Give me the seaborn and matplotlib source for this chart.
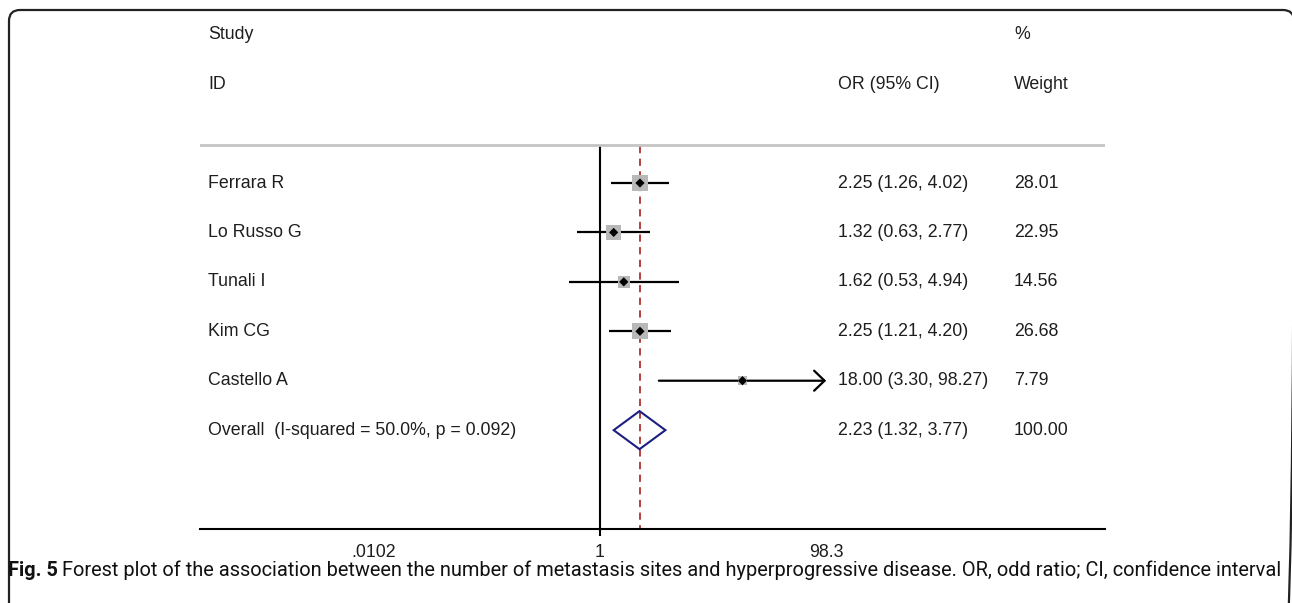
import numpy as np
import pandas as pd
import seaborn as sns
import matplotlib.pyplot as plt
from matplotlib.patches import Polygon, FancyBboxPatch, FancyArrowPatch

studies = ["Ferrara R", "Lo Russo G", "Tunali I", "Kim CG", "Castello A"]
odds = [2.25, 1.32, 1.62, 2.25, 18.00]
ci_low = [1.26, 0.63, 0.53, 1.21, 3.30]
ci_high = [4.02, 2.77, 4.94, 4.20, 98.27]
weights = [28.01, 22.95, 14.56, 26.68, 7.79]

overall_label = "Overall  (I-squared = 50.0%, p = 0.092)"
overall_or = 2.23
overall_low = 1.32
overall_high = 3.77
overall_weight = 100.00

tick_vals = [0.0102, 1, 98.3]
tick_labels = [".0102", "1", "98.3"]

caption_bold = "Fig. 5"
caption_rest = ("Forest plot of the association between the number of metastasis sites "
                "and hyperprogressive disease. OR, odd ratio; CI, confidence interval")

df = pd.DataFrame({"study": studies, "or": odds, "lo": ci_low, "hi": ci_high, "w": weights})
df["row"] = np.arange(1, len(df) + 1)
# CIs reaching the scale end get an arrow
df["arrow"] = df["hi"].round(1) >= tick_vals[-1]

sns.set_style("white")
plt.rcParams["font.family"] = ["Liberation Sans", "DejaVu Sans"]

W, H = 1292, 603
fig = plt.figure(figsize=(W / 100, H / 100), dpi=100)

# background frame (only left, top and top-right corner show)
bg = fig.add_axes([0, 0, 1, 1], zorder=0)
bg.set_xlim(0, W)
bg.set_ylim(H, 0)
bg.axis("off")
bg.add_patch(FancyBboxPatch((9, 10), 1285, 660, boxstyle="round,pad=0,rounding_size=11",
                            fill=False, ec="#222222", lw=1.6))

# main forest axes (pixel 200..1105 wide, 10..529 tall)
ax = fig.add_axes([200 / W, (H - 529) / H, 905 / W, 519 / H], zorder=1)
ax.patch.set_alpha(0)
ax.set_xscale("log")
px_per_dec = 113.5
ax.set_xlim(10 ** (-400 / px_per_dec), 10 ** (505 / px_per_dec))
ax.set_ylim(8, -2.5)

txt = "#1e1e1e"
fs = 12.8

# reference lines
ax.vlines(1, 0.25, 8.15, color="black", lw=1.5, clip_on=False, zorder=2)
ax.vlines(overall_or, 0.25, 8, color="#b03030", lw=1.3, linestyles=(0, (4, 3)), zorder=2)
ax.axhline(0.23, color="#c4c4c4", lw=2)

# CIs
normal = df[~df["arrow"]]
ax.hlines(normal["row"], normal["lo"], normal["hi"], color="black", lw=1.6, zorder=3)
for _, r in df[df["arrow"]].iterrows():
    ax.add_patch(FancyArrowPatch((r["lo"], r["row"]), (tick_vals[-1], r["row"]),
                                 arrowstyle="->,head_length=0.75,head_width=0.72",
                                 mutation_scale=10, color="black", lw=1.6,
                                 shrinkA=0, shrinkB=0, zorder=3))

# weight squares and point estimates
sns.scatterplot(data=df, x="or", y="row", s=df["w"] * 5.2, marker="s", color="#b8b8b8",
                edgecolor="none", ax=ax, zorder=4, legend=False)
sns.scatterplot(data=df, x="or", y="row", s=22, marker="D", color="black",
                edgecolor="none", ax=ax, zorder=5, legend=False)

# overall diamond
orow = len(df) + 1
h = 0.385
ax.add_patch(Polygon([(overall_low, orow), (overall_or, orow - h), (overall_high, orow),
                      (overall_or, orow + h)], closed=True, fill=False, ec="#1b1f80", lw=1.5,
                     zorder=5))

# text columns
tf = ax.get_yaxis_transform()
x_lab, x_or, x_w = 8 / 905, 638 / 905, 814 / 905
ax.text(x_lab, -2, "Study", transform=tf, va="center", ha="left", fontsize=fs, color=txt)
ax.text(x_lab, -1, "ID", transform=tf, va="center", ha="left", fontsize=fs, color=txt)
ax.text(x_w, -2, "%", transform=tf, va="center", ha="left", fontsize=fs, color=txt)
ax.text(x_or, -1, "OR (95% CI)", transform=tf, va="center", ha="left", fontsize=fs, color=txt)
ax.text(x_w, -1, "Weight", transform=tf, va="center", ha="left", fontsize=fs, color=txt)
for _, r in df.iterrows():
    ax.text(x_lab, r["row"], r["study"], transform=tf, va="center", fontsize=fs, color=txt)
    ax.text(x_or, r["row"], f"{r['or']:.2f} ({r['lo']:.2f}, {r['hi']:.2f})", transform=tf,
            va="center", fontsize=fs, color=txt)
    ax.text(x_w, r["row"], f"{r['w']:.2f}", transform=tf, va="center", fontsize=fs, color=txt)
ax.text(x_lab, orow, overall_label, transform=tf, va="center", fontsize=fs, color=txt)
ax.text(x_or, orow, f"{overall_or:.2f} ({overall_low:.2f}, {overall_high:.2f})", transform=tf,
        va="center", fontsize=fs, color=txt)
ax.text(x_w, orow, f"{overall_weight:.2f}", transform=tf, va="center", fontsize=fs, color=txt)

# axis styling
for s in ["top", "left", "right"]:
    ax.spines[s].set_visible(False)
ax.spines["bottom"].set_color("black")
ax.spines["bottom"].set_linewidth(1.5)
ax.set_xticks(tick_vals)
ax.set_xticklabels(tick_labels)
ax.minorticks_off()
ax.tick_params(axis="x", direction="out", length=8, width=1, colors="black", labelsize=fs,
               labelcolor=txt, pad=3)
ax.set_yticks([])
ax.set_xlabel("")
ax.set_ylabel("")

# caption, sized to run from x=8 to x=1283 like the reference
cap_font = ["Roboto", "DejaVu Sans"]
cap_y = 1 - 570 / H
renderer = fig.canvas.get_renderer()
cap_fs = 14
for _ in range(3):
    t1 = fig.text(8 / W, cap_y, caption_bold, fontsize=cap_fs, fontweight="bold", va="center",
                  ha="left", family=cap_font, color="#111111")
    e1 = t1.get_window_extent(renderer)
    t2 = fig.text((e1.x1 + 0.3 * cap_fs) / W, cap_y, caption_rest, fontsize=cap_fs, va="center",
                  ha="left", family=cap_font, color="#111111")
    e2 = t2.get_window_extent(renderer)
    scale = (1283 - 8) / (e2.x1 - e1.x0)
    t1.remove()
    t2.remove()
    cap_fs *= scale
t1 = fig.text(8 / W, cap_y, caption_bold, fontsize=cap_fs, fontweight="bold", va="center",
              ha="left", family=cap_font, color="#111111")
e1 = t1.get_window_extent(renderer)
fig.text((e1.x1 + 0.3 * cap_fs) / W, cap_y, caption_rest, fontsize=cap_fs, va="center",
         ha="left", family=cap_font, color="#111111")

fig.savefig("out.png", dpi=100)
